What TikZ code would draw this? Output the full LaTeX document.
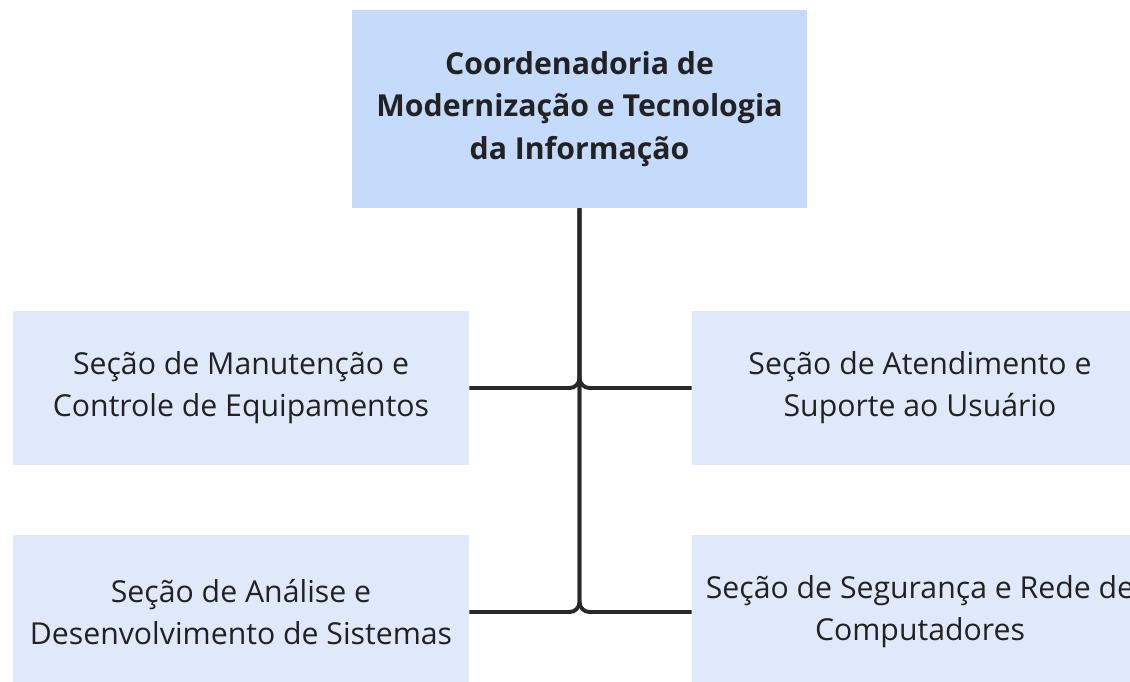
\documentclass[tikz,border=0pt]{standalone}
\usepackage{fontspec}
\setmainfont{Open Sans}
\usepackage{tikz}
\definecolor{topblue}{RGB}{197,219,252}
\definecolor{secblue}{RGB}{224,233,249}
\definecolor{linegray}{RGB}{40,40,40}
\definecolor{textgray}{RGB}{34,34,34}
\tikzset{>=stealth}
\tikzset{orgbox/.style={fill=secblue, text=textgray, align=center, inner sep=0pt,
    minimum width=11.4cm, minimum height=3.85cm, font=\fontsize{21.5}{30}\selectfont}}
\tikzset{headbox/.style={orgbox, fill=topblue, minimum width=11.375cm, minimum height=4.95cm,
    font=\fontsize{21.5}{30}\selectfont\bfseries}}
\tikzset{conn/.style={draw=linegray, line width=2.8pt, rounded corners=0.25cm}}

\begin{document}
\begin{tikzpicture}[x=0.025cm, y=-0.025cm]
    \clip (0,0) rectangle (1130,682);
    \node [headbox] (coord) at (579.5,109) {Coordenadoria de\\Modernização e Tecnologia\\da Informação};
    \node [orgbox] (manut) at (241,388) {Seção de Manutenção e\\Controle de Equipamentos};
    \node [orgbox] (atend) at (920,388) {Seção de Atendimento e\\Suporte ao Usuário};
    \node [orgbox] (anal) at (241,612) {Seção de Análise e\\Desenvolvimento de Sistemas};
    \node [orgbox] (segur) at (920,612) {Seção de Segurança e Rede de\\Computadores};
    \draw [conn] (manut.east) -| (coord.south);
    \draw [conn] (atend.west) -| (coord.south);
    \draw [conn] (anal.east) -| (coord.south);
    \draw [conn] (segur.west) -| (coord.south);
\end{tikzpicture}
\end{document}
